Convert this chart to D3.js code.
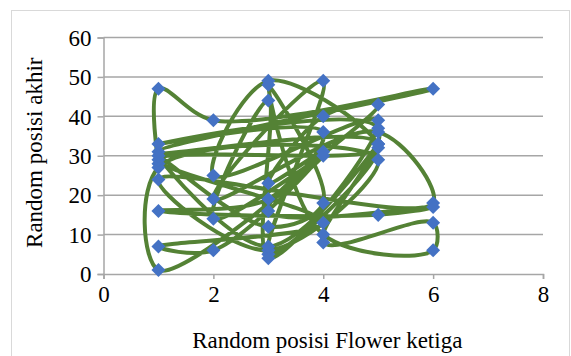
<!DOCTYPE html>
<html>
<head>
<meta charset="utf-8">
<script src="https://cdn.jsdelivr.net/npm/d3@7"></script>
<style>
  html, body { margin: 0; padding: 0; background: #fff; }
  svg { display: block; }
  text { font-family: "Liberation Serif", "Times New Roman", serif; fill: #000; }
</style>
</head>
<body>
<svg id="chart" width="571" height="356"></svg>
<script>
// Flower position pairs, in the order they were recorded
const xPos = [1,1,2,6,1,5,3,4,2,5,6,1,3,5,1,1,4,2,3,3,5,2,3,5,1,4,1,2,4,3,4,5,3,6,5,1,3,4,1,5,4,6,6,4,3,4,3,1,3,5];
const yPos = [28,47,39,47,31,33,5,49,19,36,18,24,6,29,27,1,30,14,44,4,39,25,49,32,29,13,7,6,31,23,40,43,16,17,15,16,19,36,33,37,8,13,6,10,48,18,12,30,7,33];

const xTicks = [0, 2, 4, 6, 8];
const yTicks = [0, 10, 20, 30, 40, 50, 60];
const xTitle = "Random posisi Flower ketiga";
const yTitle = "Random posisi akhir";

const svg = d3.select("#chart");

// chart-area frame
svg.append("rect")
  .attr("x", 11.5).attr("y", 10.5)
  .attr("width", 558).attr("height", 360)
  .attr("fill", "none").attr("stroke", "#d9d9d9").attr("stroke-width", 1);

const x = d3.scaleLinear().domain([0, 8]).range([103.5, 543]);
const y = d3.scaleLinear().domain([0, 60]).range([274, 37.5]);

// horizontal gridlines
svg.append("g").selectAll("line").data(yTicks.filter(d => d > 0)).join("line")
  .attr("x1", x(0)).attr("x2", x(8))
  .attr("y1", d => y(d)).attr("y2", d => y(d))
  .attr("stroke", "#a6a6a6").attr("stroke-width", 1.5);

// y axis
const yAxis = svg.append("g")
  .attr("transform", `translate(${x(0)},0)`)
  .call(d3.axisLeft(y).tickValues(yTicks).tickSize(6).tickPadding(6).tickFormat(d3.format("d")));
// x axis
const xAxis = svg.append("g")
  .attr("transform", `translate(0,${y(0)})`)
  .call(d3.axisBottom(x).tickValues(xTicks).tickSize(5).tickPadding(6).tickFormat(d3.format("d")));

[yAxis, xAxis].forEach(a => {
  a.select(".domain").attr("stroke", "#a6a6a6").attr("stroke-width", 1.5);
  a.selectAll(".tick line").attr("stroke", "#a6a6a6").attr("stroke-width", 1.5);
  a.selectAll(".tick text")
    .attr("font-size", 23)
    .style("font-family", "'Liberation Serif', 'Times New Roman', serif")
    .attr("fill", "#000");
});
yAxis.selectAll(".tick text").attr("dy", "0.34em");
xAxis.selectAll(".tick text").attr("dy", "0.72em");

// smoothed connecting line
const pts = xPos.map((v, i) => [v, yPos[i]]);
const line = d3.line()
  .x(d => x(d[0])).y(d => y(d[1]))
  .curve(d3.curveCatmullRom.alpha(0.5));
svg.append("path")
  .datum(pts)
  .attr("d", line)
  .attr("fill", "none")
  .attr("stroke", "#548235")
  .attr("stroke-width", 4)
  .attr("stroke-linejoin", "round");

// diamond markers
const diamond = d3.symbol().type(d3.symbolDiamond2).size(125);
svg.append("g").selectAll("path").data(pts).join("path")
  .attr("transform", d => `translate(${x(d[0])},${y(d[1])})`)
  .attr("d", diamond)
  .attr("fill", "#4472c4");

// axis titles
svg.append("text")
  .attr("x", (x(0) + x(8)) / 2 + 4).attr("y", 348)
  .attr("text-anchor", "middle").attr("font-size", 23)
  .text(xTitle);
svg.append("text")
  .attr("transform", `translate(42,${(y(0) + y(60)) / 2 - 3}) rotate(-90)`)
  .attr("text-anchor", "middle").attr("font-size", 23)
  .text(yTitle);
</script>
</body>
</html>
